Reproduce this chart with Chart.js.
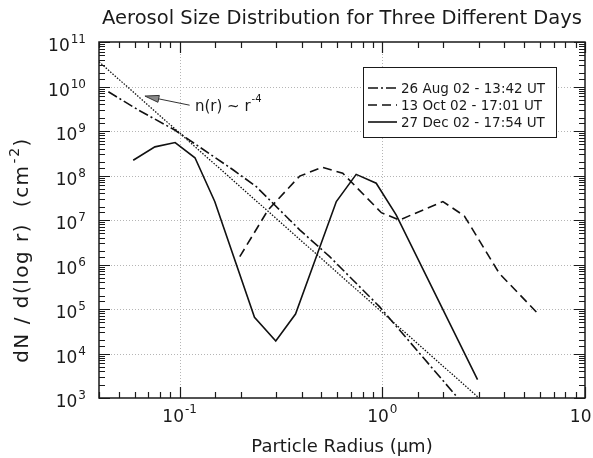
<!DOCTYPE html>
<html>
<head>
<meta charset="utf-8">
<script src="https://cdn.jsdelivr.net/npm/chart.js@4.4.1/dist/chart.umd.min.js"></script>
<style>
  html, body { margin: 0; padding: 0; background: #fff; }
</style>
</head>
<body>
<canvas id="canvas" width="593" height="458"></canvas>
<script>
// particle radius (um) and dN/dlog r (cm^-2)
var augR = [0.0445, 0.0626, 0.0946, 0.184, 0.239, 0.391, 0.55, 0.968, 2.36];
var augN = [7.6e9, 2.96e9, 1.05e9, 1.33e8, 5.6e7, 6.0e6, 1.5e6, 1.13e5, 1.0e3];

var octR = [0.198, 0.273, 0.391, 0.506, 0.638, 0.989, 1.215, 1.99, 2.54, 3.78, 5.95];
var octN = [1.5e6, 1.68e7, 9.7e7, 1.53e8, 1.12e8, 1.46e7, 1.0e7, 2.6e7, 1.23e7, 6.3e5, 7.3e4];

var decR = [0.059, 0.0755, 0.095, 0.119, 0.149, 0.234, 0.298, 0.373, 0.593, 0.743, 0.933, 1.17, 2.95];
var decN = [2.2e8, 4.4e8, 5.5e8, 2.5e8, 2.6e7, 6.5e4, 1.9e4, 7.7e4, 2.6e7, 1.06e8, 6.7e7, 1.3e7, 2.6e3];

// the r^-4 reference line
var fitR = [0.04, 3.0];
var fitN = [3.6e10, 1.0e3];

var seriesNames = ['26 Aug 02 - 13:42 UT', '13 Oct 02 - 17:01 UT', '27 Dec 02 - 17:54 UT'];

var xMin = 0.04, xMax = 10;
var yMin = 1e3, yMax = 1e11;

// annotation "n(r) ~ r^-4" (data coords)
var noteAt = [0.119, 3.5e9];
var arrowFrom = [0.112, 3.8e9];
var arrowTo = [0.0674, 6.1e9];

var FONT = 'DejaVu Sans';
var INK = '#1a1a1a';
var dashes = [[10, 3, 2, 3], [9, 5], []];

function pts(r, n) {
	var out = [];
	for (var i = 0; i < r.length; i++) out.push({x: r[i], y: n[i]});
	return out;
}

function isMajor(v) {
	var e = Math.log10(v);
	return Math.abs(e - Math.round(e)) < 1e-6;
}

// "10" with a raised exponent; align 'center' or 'right' about px
function drawPow(ctx, v, px, baseY, expY, align) {
	var e = String(Math.round(Math.log10(v)));
	ctx.font = '17px "' + FONT + '"';
	var w1 = ctx.measureText('10').width;
	ctx.font = '12px "' + FONT + '"';
	var w2 = ctx.measureText(e).width;
	var x0 = align == 'right' ? px - w1 - w2 - 1 : px - (w1 + w2 + 1) / 2;
	ctx.textAlign = 'left';
	ctx.textBaseline = 'middle';
	ctx.font = '17px "' + FONT + '"';
	ctx.fillText('10', x0, baseY);
	ctx.font = '12px "' + FONT + '"';
	ctx.fillText(e, x0 + w1 + 1, expY);
}

var frame = {
	id: 'frame',
	beforeDatasetsDraw: function(chart) {
		var ctx = chart.ctx, a = chart.chartArea, x = chart.scales.x, y = chart.scales.y;
		ctx.save();
		ctx.strokeStyle = '#b5b5b5';
		ctx.lineWidth = 1;
		ctx.setLineDash([1, 2]);
		ctx.beginPath();
		x.ticks.forEach(function(t) {
			if (!isMajor(t.value)) return;
			var px = Math.round(x.getPixelForValue(t.value)) + 0.5;
			if (px < a.left + 2 || px > a.right - 2) return;
			ctx.moveTo(px, a.top); ctx.lineTo(px, a.bottom);
		});
		y.ticks.forEach(function(t) {
			if (!isMajor(t.value)) return;
			var py = Math.round(y.getPixelForValue(t.value)) + 0.5;
			if (py < a.top + 2 || py > a.bottom - 2) return;
			ctx.moveTo(a.left, py); ctx.lineTo(a.right, py);
		});
		ctx.stroke();
		ctx.restore();
	},
	afterDatasetsDraw: function(chart) {
		var ctx = chart.ctx, a = chart.chartArea, x = chart.scales.x, y = chart.scales.y;
		ctx.save();
		ctx.strokeStyle = INK;
		ctx.lineWidth = 1.5;
		ctx.strokeRect(a.left, a.top, a.right - a.left, a.bottom - a.top);

		// inward ticks on all four sides
		ctx.lineWidth = 1.2;
		ctx.beginPath();
		x.ticks.forEach(function(t) {
			var px = Math.round(x.getPixelForValue(t.value)) + 0.5;
			var len = isMajor(t.value) ? 11 : 6;
			ctx.moveTo(px, a.bottom); ctx.lineTo(px, a.bottom - len);
			ctx.moveTo(px, a.top); ctx.lineTo(px, a.top + len);
		});
		y.ticks.forEach(function(t) {
			var py = Math.round(y.getPixelForValue(t.value)) + 0.5;
			var len = isMajor(t.value) ? 11 : 6;
			ctx.moveTo(a.left, py); ctx.lineTo(a.left + len, py);
			ctx.moveTo(a.right, py); ctx.lineTo(a.right - len, py);
		});
		ctx.stroke();

		// tick labels
		ctx.fillStyle = INK;
		x.ticks.forEach(function(t) {
			if (!isMajor(t.value)) return;
			drawPow(ctx, t.value, x.getPixelForValue(t.value), a.bottom + 20, a.bottom + 12, 'center');
		});
		y.ticks.forEach(function(t) {
			if (!isMajor(t.value)) return;
			var py = y.getPixelForValue(t.value);
			drawPow(ctx, t.value, a.left - 13, py + 5, py - 2, 'right');
		});

		// y axis title with a real superscript
		ctx.save();
		ctx.translate(23, a.top + 208);
		ctx.rotate(-Math.PI / 2);
		ctx.textBaseline = 'middle';
		ctx.textAlign = 'left';
		ctx.letterSpacing = '1.5px';
		var t1 = 'dN / d(log r)  (cm', t2 = '-2', t3 = ')';
		ctx.font = '20px "' + FONT + '"';
		var w1 = ctx.measureText(t1).width, w3 = ctx.measureText(t3).width;
		ctx.font = '14px "' + FONT + '"';
		var w2 = ctx.measureText(t2).width;
		var sx = -(w1 + w2 + w3 + 1) / 2;
		ctx.font = '20px "' + FONT + '"';
		ctx.fillText(t1, sx, 0);
		ctx.fillText(t3, sx + w1 + w2 + 1, 0);
		ctx.font = '14px "' + FONT + '"';
		ctx.fillText(t2, sx + w1 + 1, -8);
		ctx.restore();

		// annotation arrow
		var tx = x.getPixelForValue(arrowTo[0]), ty = y.getPixelForValue(arrowTo[1]);
		var fx = x.getPixelForValue(arrowFrom[0]), fy = y.getPixelForValue(arrowFrom[1]);
		var ang = Math.atan2(fy - ty, fx - tx);
		var hl = 14, hw = 3.5;
		var bxp = tx + Math.cos(ang) * hl, byp = ty + Math.sin(ang) * hl;
		ctx.lineWidth = 1;
		ctx.strokeStyle = '#333';
		ctx.beginPath();
		ctx.moveTo(bxp, byp); ctx.lineTo(fx, fy);
		ctx.stroke();
		ctx.beginPath();
		ctx.moveTo(tx, ty);
		ctx.lineTo(bxp - Math.sin(ang) * hw, byp + Math.cos(ang) * hw);
		ctx.lineTo(bxp + Math.sin(ang) * hw, byp - Math.cos(ang) * hw);
		ctx.closePath();
		ctx.fillStyle = '#8a8a8a';
		ctx.fill();
		ctx.stroke();

		var nx = x.getPixelForValue(noteAt[0]), ny = y.getPixelForValue(noteAt[1]);
		ctx.fillStyle = INK;
		ctx.textBaseline = 'middle';
		ctx.textAlign = 'left';
		ctx.font = '15px "' + FONT + '"';
		var main = 'n(r) ~ r';
		ctx.fillText(main, nx, ny);
		var w = ctx.measureText(main).width;
		ctx.font = '10px "' + FONT + '"';
		ctx.fillText('-4', nx + w + 1, ny - 7);

		// legend box
		var bw = 193, bh = 70;
		var bx = a.right - 222, by = a.top + 25;
		ctx.fillStyle = '#fff';
		ctx.fillRect(bx, by, bw, bh);
		ctx.strokeStyle = INK;
		ctx.lineWidth = 1;
		ctx.strokeRect(bx + 0.5, by + 0.5, bw, bh);
		ctx.font = '13.5px "' + FONT + '"';
		for (var i = 0; i < seriesNames.length; i++) {
			var ry = by + 21 + i * 17;
			ctx.strokeStyle = '#111';
			ctx.lineWidth = 1.6;
			ctx.setLineDash(dashes[i]);
			ctx.beginPath();
			ctx.moveTo(bx + 5, ry); ctx.lineTo(bx + 34, ry);
			ctx.stroke();
			ctx.setLineDash([]);
			ctx.fillStyle = INK;
			ctx.fillText(seriesNames[i], bx + 38, ry + 1);
		}
		ctx.restore();
	}
};

var ctx = document.getElementById("canvas").getContext("2d");

var chart = new Chart(ctx, {
	type: 'line',
	data: {
		datasets: [
			{label: seriesNames[0], data: pts(augR, augN), borderDash: dashes[0]},
			{label: seriesNames[1], data: pts(octR, octN), borderDash: dashes[1]},
			{label: seriesNames[2], data: pts(decR, decN)},
			{label: 'n(r) ~ r-4', data: pts(fitR, fitN), borderDash: [1.5, 1.5], borderWidth: 1.3}
		]
	},
	options: {
		responsive: false,
		animation: false,
		elements: {
			point: {radius: 0},
			line: {borderColor: '#111', borderWidth: 1.6, tension: 0, fill: false}
		},
		layout: {padding: {top: 0, left: 0, right: 8, bottom: 0}},
		plugins: {
			legend: {display: false},
			tooltip: {enabled: false},
			title: {
				display: true,
				text: 'Aerosol Size Distribution for Three Different Days',
				fullSize: false,
				color: INK,
				font: {family: FONT, size: 19.5, weight: 'normal'},
				padding: {top: 7.3, bottom: 11.3}
			}
		},
		scales: {
			x: {
				type: 'logarithmic',
				min: xMin, max: xMax,
				grid: {display: false, drawTicks: false},
				border: {display: false},
				ticks: {display: false, autoSkip: false},
				title: {display: true, text: 'Particle Radius (\u03BCm)', color: INK,
					font: {family: FONT, size: 18}, padding: {top: 0, bottom: 0}},
				afterFit: function(s) { s.height = 60; s.paddingLeft = 0; s.paddingRight = 0; }
			},
			y: {
				type: 'logarithmic',
				min: yMin, max: yMax,
				grid: {display: false, drawTicks: false},
				border: {display: false},
				ticks: {display: false, autoSkip: false},
				afterFit: function(s) { s.width = 99; s.paddingTop = 0; s.paddingBottom = 0; }
			}
		}
	},
	plugins: [frame]
});
</script>
</body>
</html>
